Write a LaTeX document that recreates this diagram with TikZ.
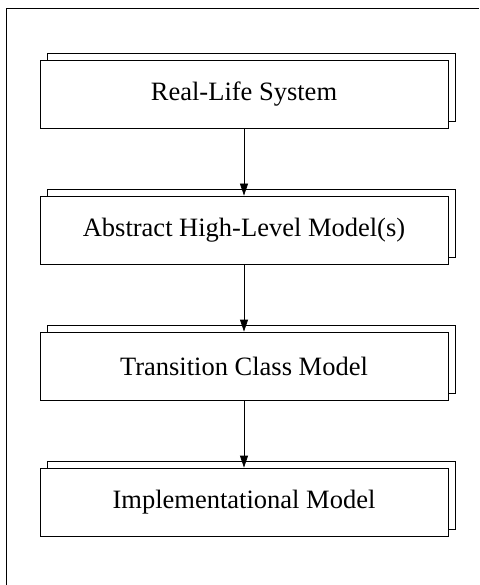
\documentclass[tikz,border=0pt]{standalone}
\usepackage{fontspec}
\setmainfont{Liberation Serif}
\usetikzlibrary{arrows.meta,shadows}
\begin{document}
\begin{tikzpicture}[x=1pt,y=1pt,
  stage/.style={draw, line width=0.8pt, fill=white, minimum width=408pt,
    minimum height=68pt, inner sep=0pt, font=\fontsize{26.5}{30}\selectfont,
    copy shadow={shadow xshift=7pt, shadow yshift=7pt, fill=white, draw, line width=0.8pt}},
  flow/.style={-{Triangle[length=12pt,width=8pt]}, line width=0.8pt}]
\useasboundingbox (0,0) rectangle (479,-585);
\draw[line width=1pt] (6,-585) |- (479,-9);
\node[stage] (a) at (244,-94) {Real-Life System};
\node[stage] (b) at (244,-230) {Abstract High-Level Model(s)};
\node[stage] (c) at (244,-366) {Transition Class Model};
\node[stage] (d) at (244,-502) {Implementational Model};
\draw[flow] (a) -- (b);
\draw[flow] (b) -- (c);
\draw[flow] (c) -- (d);
\end{tikzpicture}
\end{document}
